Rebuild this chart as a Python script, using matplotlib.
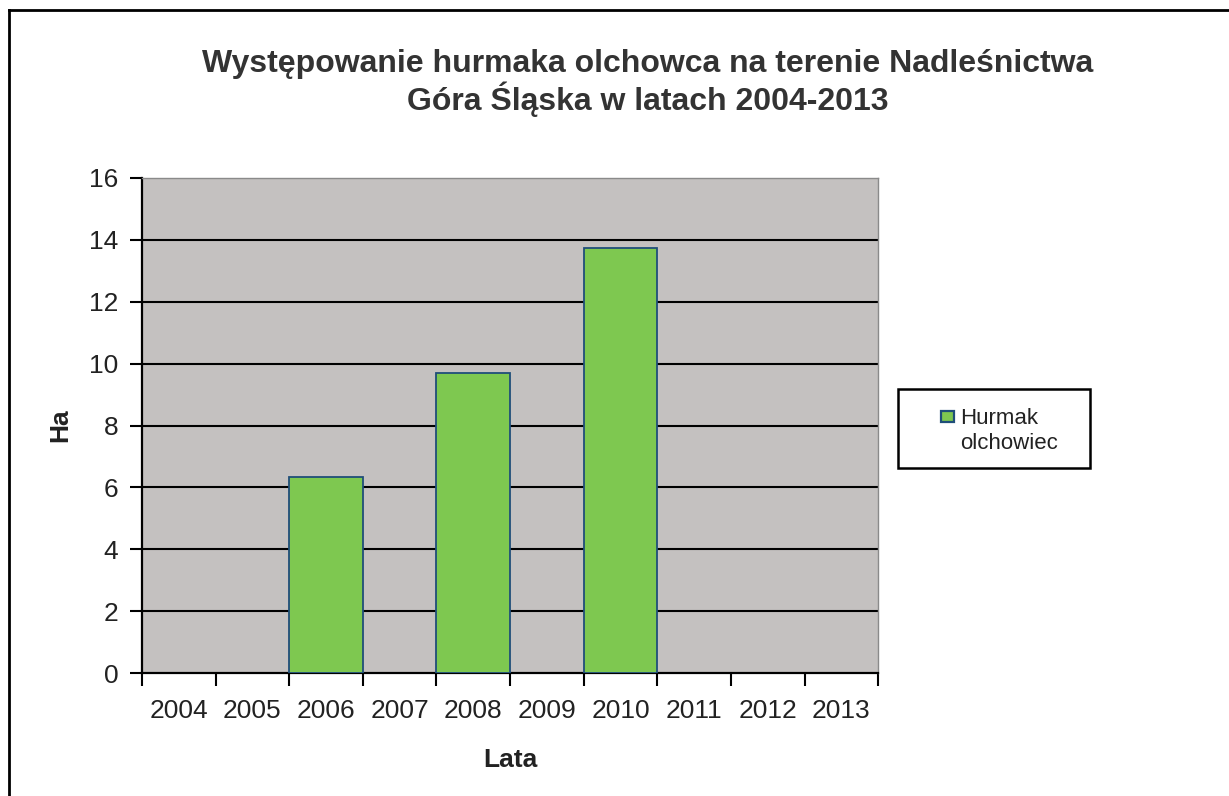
import numpy as np
import matplotlib.pyplot as plt
from matplotlib.lines import Line2D
from matplotlib.patches import Rectangle

plt.rcParams['font.family'] = ['Liberation Sans', 'DejaVu Sans']

# Data
years = ['2004', '2005', '2006', '2007', '2008', '2009', '2010', '2011', '2012', '2013']
hurmak = [0, 0, 6.33, 0, 9.69, 0, 13.73, 0, 0, 0]
y_ticks = [0, 2, 4, 6, 8, 10, 12, 14, 16]
series_name = 'Hurmak\nolchowiec'

W, H = 1229, 796
fig = plt.figure(figsize=(W / 100, H / 100), dpi=100)
ax = fig.add_axes([0.1155, 0.1545, 0.599, 0.6219])
ax.set_facecolor('#c4c1c0')

x = np.arange(len(years))
bars = ax.bar(x, hurmak, width=1.0, color='#7ec850', edgecolor='#1f4e79',
              linewidth=1.3, zorder=3)
# hide the empty categories' zero-height bars
for b, v in zip(bars, hurmak):
    if v == 0:
        b.set_visible(False)

ax.set_xlim(-0.5, len(years) - 0.5)
ax.set_ylim(0, 16)
ax.set_yticks(y_ticks)
ax.set_yticklabels([str(t) for t in y_ticks], fontsize=19, color='#222222')
for t in y_ticks[1:-1]:
    ax.axhline(t, color='black', linewidth=1.5, zorder=2)

# category ticks between the years, labels at the centres
ax.set_xticks(np.arange(len(years) + 1) - 0.5)
ax.set_xticklabels([])
ax.set_xticks(x, minor=True)
ax.set_xticklabels(years, minor=True, fontsize=19, color='#222222')
ax.tick_params(axis='x', which='major', length=9, width=1.5, direction='out')
ax.tick_params(axis='x', which='minor', length=0, pad=19)
ax.tick_params(axis='y', length=9, width=1.5, direction='out', pad=8)

for s in ['left', 'bottom']:
    ax.spines[s].set_color('black')
    ax.spines[s].set_linewidth(1.6)
for s in ['top', 'right']:
    ax.spines[s].set_color('#8a8a8a')
    ax.spines[s].set_linewidth(1.0)

ax.set_xlabel('Lata', fontsize=19, fontweight='bold', color='#222222', labelpad=18)
ax.set_ylabel('Ha', fontsize=19, fontweight='bold', color='#222222', labelpad=12)

fig.text(0.527, 1 - 83 / H, 'Występowanie hurmaka olchowca na terenie Nadleśnictwa\nGóra Śląska w latach 2004-2013',
         ha='center', va='center', fontsize=23, fontweight='bold', color='#333333',
         linespacing=1.1)

# legend box with the series key (marker beside the first line, like Excel)
fig.add_artist(Rectangle((898 / W, 1 - 468 / H), 192 / W, 79 / H, transform=fig.transFigure,
                         facecolor='white', edgecolor='black', linewidth=1.8, zorder=4))
fig.add_artist(Rectangle((941 / W, 1 - 422 / H), 13 / W, 11 / H, transform=fig.transFigure,
                         facecolor='#7ec850', edgecolor='#1f4e79', linewidth=1.6, zorder=5))
fig.text(960 / W, 1 - 431 / H, series_name, ha='left', va='center', fontsize=16,
         color='#222222', linespacing=1.3, zorder=5)

# page frame (left and top edges of the scanned chart border)
fig.add_artist(Line2D([9 / W, 9 / W], [0, 1 - 10 / H], color='black', linewidth=2,
                      transform=fig.transFigure))
fig.add_artist(Line2D([9 / W, 1], [1 - 10 / H, 1 - 10 / H], color='black', linewidth=2,
                      transform=fig.transFigure))

fig.savefig('out.png', dpi=100)
